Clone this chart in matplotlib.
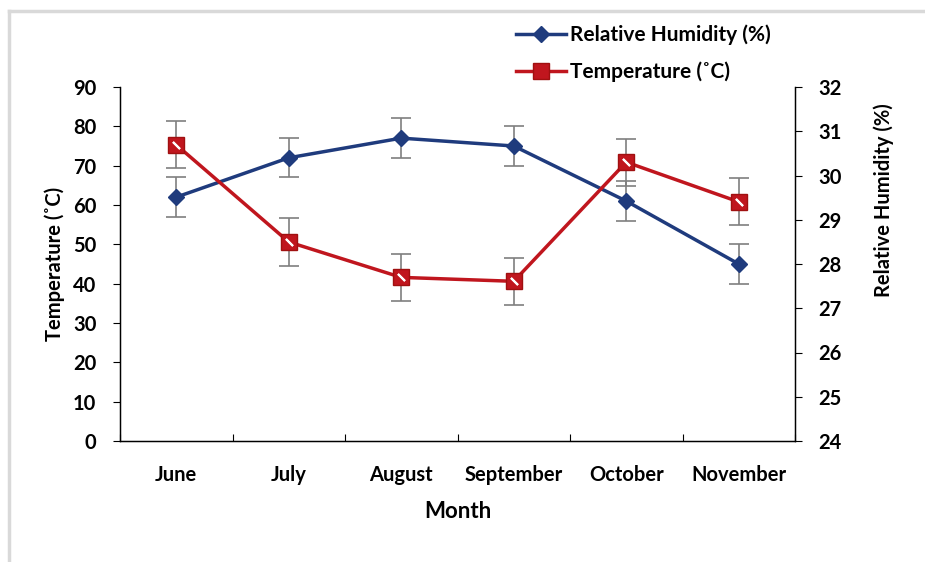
import matplotlib
matplotlib.use("Agg")
import matplotlib.pyplot as plt
from matplotlib.lines import Line2D
import numpy as np

plt.rcParams['font.family'] = ['Lato', 'DejaVu Sans']
plt.rcParams['font.weight'] = 'bold'

months = ["June", "July", "August", "September", "October", "November"]
rh_values = [62, 72, 77, 75, 61, 45]
rh_err = [5, 5, 5, 5, 5, 5]
temp_values = [75.3, 50.6, 41.6, 40.6, 70.9, 60.8]
temp_err = [6, 6, 6, 6, 6, 6]
left_ticks = [0, 10, 20, 30, 40, 50, 60, 70, 80, 90]
right_ticks = [24, 25, 26, 27, 28, 29, 30, 31, 32]

blue = '#1F3B7D'
red = '#C0161E'
grey = '#7F7F7F'

fig = plt.figure(figsize=(9.25, 5.62), dpi=100)
ax = fig.add_axes([120/925, 1-441/562, 675/925, 354/562])

x = np.arange(len(months))
ax.errorbar(x, rh_values, yerr=rh_err, color=blue, lw=2.5, marker='D', ms=8,
            mfc=blue, mec=blue, ecolor=grey, elinewidth=1.2, capsize=7, capthick=1.2, zorder=3)
ax.errorbar(x, temp_values, yerr=temp_err, color=red, lw=2.5, marker='s', ms=11,
            mfc=red, mec='#A01010', ecolor=grey, elinewidth=1.2, capsize=7, capthick=1.2, zorder=4)
ax.plot(x, temp_values, ls='none', marker=(2, 2, 45), ms=7, mec='white', mew=1.5, zorder=5)

ax.set_xlim(-0.5, len(months) - 0.5)
ax.set_ylim(left_ticks[0], left_ticks[-1])
ax.set_yticks(left_ticks)
ax.set_xticks(x)
ax.set_xticklabels(months)
ax.set_xticks(np.arange(len(months) + 1) - 0.5, minor=True)
ax.tick_params(axis='x', which='major', length=0, pad=17, labelsize=14.5)
ax.tick_params(axis='x', which='minor', direction='in', length=5, width=0.8)
ax.tick_params(axis='y', direction='out', length=5, width=0.8, labelsize=14.5, pad=12)
ax.spines['top'].set_visible(False)
for s in ['left', 'bottom', 'right']:
    ax.spines[s].set_linewidth(1.0)

ax2 = ax.twinx()
ax2.set_ylim(right_ticks[0], right_ticks[-1])
ax2.set_yticks(right_ticks)
ax2.tick_params(axis='y', direction='out', length=5, width=0.8, labelsize=14.5, pad=12)
ax2.spines['top'].set_visible(False)

ax.set_xlabel("Month", fontsize=16, fontweight='bold', labelpad=12)
ax.set_ylabel("Temperature (˚C)", fontsize=14.5, fontweight='bold', labelpad=6)
ax2.set_ylabel("Relative Humidity (%)", fontsize=14.5, fontweight='bold')
ax2.yaxis.set_label_coords(1.1156, 0.68)

handles = [
    Line2D([], [], color=blue, lw=2.5, marker='D', ms=8, mfc=blue, mec=blue),
    Line2D([], [], color=red, lw=2.5, marker='s', ms=11, mfc=red, mec='#A01010'),
]
leg = fig.legend(handles, ["Relative Humidity (%)", "Temperature (˚C)"],
                 loc='upper left', bbox_to_anchor=(508/925, 1-16/562), frameon=False,
                 fontsize=15, handlelength=2.4, labelspacing=0.8, handletextpad=0.2,
                 borderaxespad=0)

fig.add_artist(Line2D([9/925, 9/925], [0, 1-11/562], color='#D9D9D9', lw=2.5))
fig.add_artist(Line2D([9/925, 1], [1-11/562, 1-11/562], color='#D9D9D9', lw=2.5))

fig.savefig("out.png", dpi=100)
